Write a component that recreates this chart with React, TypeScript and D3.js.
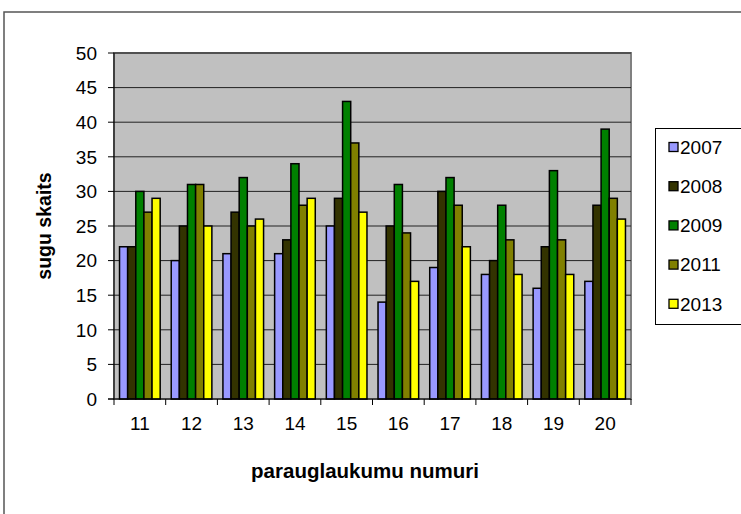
import React from "react";
import * as d3 from "d3";

const categories = ["11", "12", "13", "14", "15", "16", "17", "18", "19", "20"];
const seriesNames = ["2007", "2008", "2009", "2011", "2013"];
const s2007 = [22, 20, 21, 21, 25, 14, 19, 18, 16, 17];
const s2008 = [22, 25, 27, 23, 29, 25, 30, 20, 22, 28];
const s2009 = [30, 31, 32, 34, 43, 31, 32, 28, 33, 39];
const s2011 = [27, 31, 25, 28, 37, 24, 28, 23, 23, 29];
const s2013 = [29, 25, 26, 29, 27, 17, 22, 18, 18, 26];
const seriesValues = [s2007, s2008, s2009, s2011, s2013];
const colors = ["#9999FF", "#333300", "#008000", "#808000", "#FFFF00"];
const yTicks = [0, 5, 10, 15, 20, 25, 30, 35, 40, 45, 50];

export default function App() {
  const W = 741, H = 514;
  const left = 114, right = 631, top = 53, bottom = 399;
  const x = d3.scaleBand<string>().domain(categories).range([left, right]).padding(0);
  const inner = d3
    .scaleBand<string>()
    .domain(seriesNames)
    .range([0, x.bandwidth()])
    .paddingInner(0)
    .paddingOuter(0.68);
  const y = d3.scaleLinear().domain([0, 50]).range([bottom, top]);
  const font = "Arial, 'Liberation Sans', sans-serif";

  return (
    <svg width={W} height={H} style={{ position: "absolute", left: 0, top: 0 }} fontFamily={font}>
      <rect x={0} y={0} width={W} height={H} fill="#fff" />
      <rect x={4} y={12} width={W + 10} height={H + 10} fill="#fff" stroke="#555" strokeWidth={1.5} />
      {/* plot area */}
      <rect x={left} y={top} width={right - left} height={bottom - top} fill="#C0C0C0" stroke="#808080" strokeWidth={2} />
      {yTicks.filter((t) => t > 0).map((t) => (
        <line key={t} x1={left} x2={right} y1={y(t)} y2={y(t)} stroke="#222" strokeWidth={1} />
      ))}
      {/* bars */}
      {seriesValues.map((vals, si) =>
        vals.map((v, ci) => (
          <rect
            key={`${si}-${ci}`}
            x={(x(categories[ci]) as number) + (inner(seriesNames[si]) as number)}
            y={y(v)}
            width={inner.bandwidth()}
            height={y(0) - y(v)}
            fill={colors[si]}
            stroke="#000"
            strokeWidth={1.5}
          />
        ))
      )}
      {/* axes */}
      <line x1={left} x2={left} y1={top} y2={bottom} stroke="#000" strokeWidth={1} />
      <line x1={left - 6} x2={right} y1={bottom} y2={bottom} stroke="#000" strokeWidth={1} />
      {yTicks.map((t) => (
        <g key={t}>
          <line x1={left - 6} x2={left} y1={y(t)} y2={y(t)} stroke="#000" />
          <text x={97} y={y(t)} dy="0.36em" textAnchor="end" fontSize={19} fill="#000">
            {t}
          </text>
        </g>
      ))}
      {categories.map((c, i) => (
        <g key={c}>
          <line x1={(x(c) as number)} x2={(x(c) as number)} y1={bottom} y2={bottom + 6} stroke="#000" />
          {i === categories.length - 1 && (
            <line x1={right} x2={right} y1={bottom} y2={bottom + 6} stroke="#000" />
          )}
          <text x={(x(c) as number) + x.bandwidth() / 2} y={430} textAnchor="middle" fontSize={19} fill="#000">
            {c}
          </text>
        </g>
      ))}
      <text x={365} y={478} textAnchor="middle" fontSize={20.5} fontWeight="bold" fill="#000">
        parauglaukumu numuri
      </text>
      <text
        transform={`translate(51,${(top + bottom) / 2}) rotate(-90)`}
        textAnchor="middle"
        fontSize={19.5}
        fontWeight="bold"
        fill="#000"
      >
        sugu skaits
      </text>
      {/* legend */}
      <rect x={655.5} y={128.5} width={90} height={196} fill="#fff" stroke="#000" strokeWidth={1} />
      {seriesNames.map((s, i) => {
        const cy = 147 + i * 39.2;
        return (
          <g key={s}>
            <rect x={669} y={cy - 4.5} width={9} height={9} fill={colors[i]} stroke="#000" strokeWidth={1.3} />
            <text x={680} y={cy} dy="0.36em" fontSize={19} fill="#000">
              {s}
            </text>
          </g>
        );
      })}
    </svg>
  );
}
